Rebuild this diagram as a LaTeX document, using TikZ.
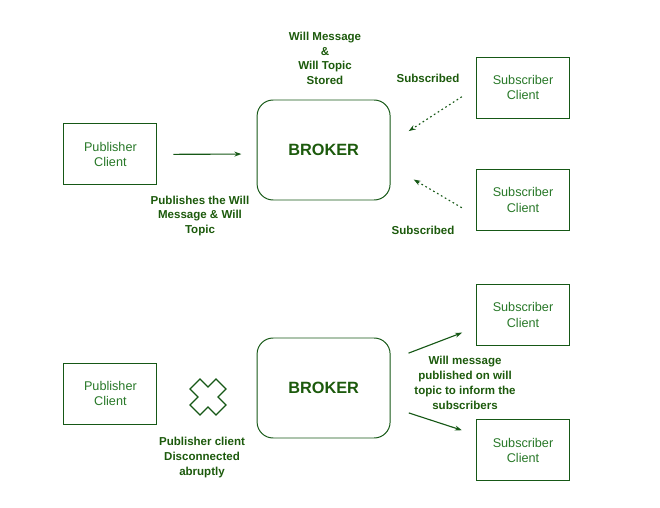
\documentclass[tikz,border=0pt]{standalone}
\usepackage{fontspec}
\setmainfont{Liberation Sans}
\usetikzlibrary{arrows.meta}

\definecolor{boxgreen}{RGB}{22,88,22}
\definecolor{txtgreen}{RGB}{40,120,40}
\definecolor{lblgreen}{RGB}{28,90,12}

\tikzset{
    client/.style={rectangle, draw=boxgreen, line width=0.8pt, minimum width=2.325cm, minimum height=1.525cm,
        align=center, text=txtgreen, font=\fontsize{9}{10.8}\selectfont},
    broker/.style={rectangle, rounded corners=0.4cm, draw=boxgreen, line width=0.7pt, minimum width=3.325cm,
        minimum height=2.5cm, text=lblgreen, font=\fontsize{11.6}{13}\selectfont\bfseries},
    lbl/.style={align=center, text=lblgreen, font=\fontsize{8.2}{10.6}\selectfont\bfseries},
    arr/.style={-{Stealth[length=5pt,width=3.5pt]}, draw=boxgreen, line width=0.8pt},
    dotarr/.style={-{Stealth[length=5pt,width=3.5pt]}, draw=boxgreen, line width=0.8pt, dash pattern=on 1.2pt off 2pt}
}

\begin{document}
\begin{tikzpicture}
    \useasboundingbox (0,0) rectangle (16.5,-12.7);

    % upper half
    \node[client] (pub1) at (2.76,-3.86) {Publisher\\Client};
    \node[broker] (broker1) at (8.09,-3.75) {BROKER};
    \node[client] (sub1) at (13.075,-2.19) {Subscriber\\Client};
    \node[client] (sub2) at (13.075,-5.0) {Subscriber\\Client};

    \node[lbl] (l1) at (8.125,-1.46) {Will Message\\\&\\Will Topic\\Stored};
    \node[lbl] (l2) at (10.7,-1.95) {Subscribed};
    \node[lbl] (l3) at (10.575,-5.75) {Subscribed};
    \node[lbl] (l4) at (5.0,-5.4) {Publishes the Will\\Message \& Will\\Topic};

    \draw[arr, shorten <=0.4cm, shorten >=0.38cm] (pub1.east) -- ([yshift=-1mm]broker1.west);
    \draw[dotarr, shorten <=0.42cm, shorten >=0.54cm] (sub1.west) -- ([yshift=1.8mm]broker1.east);
    \draw[dotarr, shorten <=0.41cm, shorten >=0.67cm] ([yshift=-4mm]sub2.west) -- ([yshift=-4mm]broker1.east);

    % lower half
    \node[client] (pub2) at (2.76,-9.84) {Publisher\\Client};
    \node[broker] (broker2) at (8.09,-9.7) {BROKER};
    \node[client] (sub3) at (13.075,-7.875) {Subscriber\\Client};
    \node[client] (sub4) at (13.075,-11.26) {Subscriber\\Client};

    \node[lbl] (l5) at (11.625,-9.575) {Will message\\published on will\\topic to inform the\\subscribers};
    \node[lbl] (l6) at (5.05,-11.43) {Publisher client\\Disconnected\\abruptly};

    % cross
    \draw[boxgreen, line width=0.8pt, fill=white, shift={(5.2,-9.925)}]
        (0,0.25) -- (0.2,0.45) -- (0.45,0.2) -- (0.25,0) -- (0.45,-0.2) -- (0.2,-0.45)
        -- (0,-0.25) -- (-0.2,-0.45) -- (-0.45,-0.2) -- (-0.25,0) -- (-0.45,0.2) -- (-0.2,0.45) -- cycle;

    \draw[arr, shorten <=0.48cm, shorten >=0.37cm] ([yshift=7mm]broker2.east) -- ([yshift=-3.1mm]sub3.west);
    \draw[arr, shorten <=0.48cm, shorten >=0.37cm] ([yshift=-4.75mm]broker2.east) -- ([yshift=3.9mm]sub4.west);
\end{tikzpicture}
\end{document}
